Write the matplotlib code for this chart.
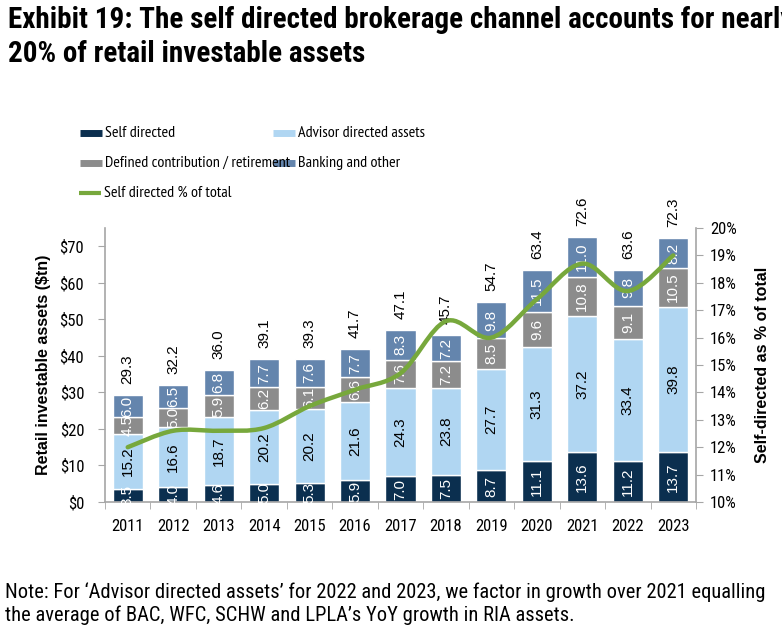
import matplotlib
matplotlib.use("Agg")
import matplotlib.pyplot as plt
from matplotlib.path import Path
from matplotlib.patches import PathPatch
from matplotlib.lines import Line2D
from matplotlib.ticker import FixedLocator
import numpy as np

years = ["2011", "2012", "2013", "2014", "2015", "2016", "2017",
         "2018", "2019", "2020", "2021", "2022", "2023"]
self_directed = [3.5, 4.0, 4.6, 5.0, 5.3, 5.9, 7.0, 7.5, 8.7, 11.1, 13.6, 11.2, 13.7]
advisor_directed = [15.2, 16.6, 18.7, 20.2, 20.2, 21.6, 24.3, 23.8, 27.7, 31.3, 37.2, 33.4, 39.8]
defined_contrib = [4.5, 5.0, 5.9, 6.2, 6.1, 6.6, 7.6, 7.2, 8.5, 9.6, 10.8, 9.1, 10.5]
banking_other = [6.0, 6.5, 6.8, 7.7, 7.6, 7.7, 8.3, 7.2, 9.8, 11.5, 11.0, 9.8, 8.2]
totals = [29.3, 32.2, 36.0, 39.1, 39.3, 41.7, 47.1, 45.7, 54.7, 63.4, 72.6, 63.6, 72.3]
self_pct = [12.0, 12.6, 12.6, 12.7, 13.5, 14.1, 14.7, 16.6, 16.0, 17.4, 18.7, 17.7, 19.0]
legend_labels = ["Self directed", "Advisor directed assets",
                 "Defined contribution / retirement", "Banking and other",
                 "Self directed % of total"]

C_SD = "#0b2f4f"
C_AD = "#b0d6f2"
C_DC = "#8c8c8c"
C_BO = "#6485ad"
C_LN = "#77a83c"
C_SP = "#a6a6a6"

NARROW = ["Roboto Condensed", "DejaVu Sans"]
NARROWER = ["PT Sans Narrow", "Roboto Condensed", "DejaVu Sans"]
REG = ["Liberation Sans", "DejaVu Sans"]

fig = plt.figure(figsize=(7.82, 6.35), dpi=100)
ax = fig.add_axes([105/782, 1-502/635, (696-105)/782, (502-228)/635])
x = np.arange(len(years))
w = 0.66

series = [(self_directed, C_SD, "white"), (advisor_directed, C_AD, "black"),
          (defined_contrib, C_DC, "white"), (banking_other, C_BO, "white")]
bottom = np.zeros(len(years))
for vals, col, tcol in series:
    vals = np.array(vals)
    ax.bar(x, vals, w, bottom=bottom, color=col, edgecolor="white", linewidth=1.0, zorder=2)
    for xi, b, v in zip(x, bottom, vals):
        ax.text(xi, b + v/2, f"{v:.1f}", rotation=90, ha="center", va="center",
                color=tcol, fontsize=11, family=REG, zorder=3)
    bottom = bottom + vals

for xi, b, t in zip(x, bottom, totals):
    ax.annotate(f"{t:.1f}", (xi, b), xytext=(0, 11), textcoords="offset pixels",
                rotation=90, ha="center", va="bottom", fontsize=11, family=REG,
                annotation_clip=False)

ax.set_xlim(-0.5, len(years)-0.5)
ax.set_ylim(0, 75)
ax.set_yticks(range(0, 71, 10))
ax.set_yticklabels([f"${v}" for v in range(0, 71, 10)], family=NARROW, fontsize=12)
ax.set_xticks(x)
ax.set_xticklabels(years, family=NARROW, fontsize=12)
ax.xaxis.set_minor_locator(FixedLocator(np.arange(-0.5, len(years), 1.0)))
ax.tick_params(axis="x", which="major", length=0, pad=12)
ax.tick_params(axis="x", which="minor", length=5, color=C_SP, direction="out")
ax.tick_params(axis="y", length=5, color=C_SP, direction="out", pad=10)
for s in ["top", "right"]:
    ax.spines[s].set_visible(False)
for s in ["left", "bottom"]:
    ax.spines[s].set_color(C_SP)
    ax.spines[s].set_linewidth(1.2)
ax.set_ylabel("Retail investable assets ($tn)", family=REG, fontsize=11.5,
              fontweight="bold", labelpad=6)

ax2 = ax.twinx()
ax2.set_ylim(10, 20)
ax2.set_yticks(range(10, 21))
ax2.set_yticklabels([f"{v}%" for v in range(10, 21)], family=NARROW, fontsize=12)
ax2.tick_params(axis="y", length=5, color=C_SP, direction="out", pad=5)
for s in ["top", "left", "bottom"]:
    ax2.spines[s].set_visible(False)
ax2.spines["right"].set_color(C_SP)
ax2.spines["right"].set_linewidth(1.2)
ax2.set_ylabel("Self-directed as % of total", family=REG, fontsize=11.5,
               fontweight="bold", labelpad=13)

# smoothed line (Catmull-Rom style Bezier through the data points)
px = x.astype(float)
py = np.array(self_pct, dtype=float)
verts = [(px[0], py[0])]
codes = [Path.MOVETO]
n = len(px)
for i in range(n-1):
    p0 = np.array([px[max(i-1, 0)], py[max(i-1, 0)]])
    p1 = np.array([px[i], py[i]])
    p2 = np.array([px[i+1], py[i+1]])
    p3 = np.array([px[min(i+2, n-1)], py[min(i+2, n-1)]])
    c1 = p1 + (p2 - p0) / 6.0
    c2 = p2 - (p3 - p1) / 6.0
    verts += [tuple(c1), tuple(c2), tuple(p2)]
    codes += [Path.CURVE4, Path.CURVE4, Path.CURVE4]
ax2.add_patch(PathPatch(Path(verts, codes), facecolor="none", edgecolor=C_LN,
                        linewidth=3.2, capstyle="round", zorder=4))

# legend (manual)
leg_fs = 11.5

def leg_item(xp, yp, color, label, lw=5):
    fig.add_artist(Line2D([xp/782, (xp+22)/782], [1-yp/635, 1-yp/635], color=color,
                          linewidth=lw, solid_capstyle="butt", transform=fig.transFigure))
    fig.text((xp+25)/782, 1-yp/635, label, family=NARROWER, fontsize=leg_fs,
             va="center", ha="left")

leg_item(80, 133, C_SD, legend_labels[0])
leg_item(273, 133, C_AD, legend_labels[1])
leg_item(80, 163, C_DC, legend_labels[2])
leg_item(273, 163, C_BO, legend_labels[3])
leg_item(79, 193, C_LN, legend_labels[4], lw=3)

fig.text(8/782, 1-28/635, "Exhibit 19: The self directed brokerage channel accounts for nearly",
         family=NARROW, fontsize=21, fontweight="bold", va="baseline", ha="left")
fig.text(8/782, 1-62/635, "20% of retail investable assets",
         family=NARROW, fontsize=21, fontweight="bold", va="baseline", ha="left")

fig.text(5/782, 1-598/635,
         "Note: For \u2018Advisor directed assets\u2019 for 2022 and 2023, we factor in growth over 2021 equalling",
         family=NARROW, fontsize=14.8, va="baseline", ha="left")
fig.text(5/782, 1-621/635,
         "the average of BAC, WFC, SCHW and LPLA\u2019s YoY growth in RIA assets.",
         family=NARROW, fontsize=14.8, va="baseline", ha="left")

fig.savefig("out.png", dpi=100)
